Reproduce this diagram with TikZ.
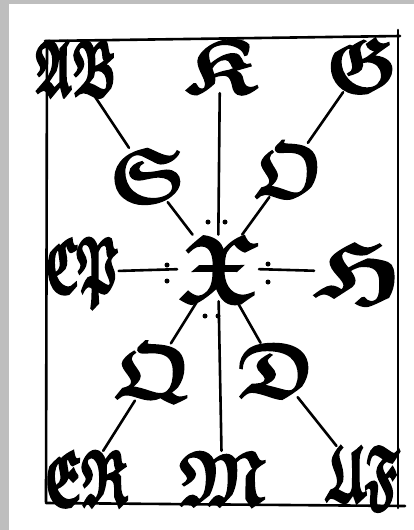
\documentclass[tikz,border=0pt]{standalone}
\usepackage{amssymb}
\usepackage{bm}
\definecolor{bggrey}{HTML}{BEBEBE}
\newcommand{\gth}[2][1]{\scalebox{#1}[1]{\special{pdf:literal direct 2 Tr 1.6 w}\ensuremath{\bm{\mathfrak{#2}}}\special{pdf:literal direct 0 Tr}}}
\newcommand{\gthpair}[2][1]{\scalebox{#1}[1]{\special{pdf:literal direct 2 Tr 3.2 w}\ensuremath{\bm{\mathfrak{#2}}}\special{pdf:literal direct 0 Tr}}}
\begin{document}
\begin{tikzpicture}[x=1pt,y=-1pt,
  glyph/.style={inner sep=0pt, font=\fontsize{78}{78}\selectfont},
  big/.style={font=\fontsize{96}{96}\selectfont},
  ink/.style={line width=2.6pt, line cap=round},
  dotmark/.style={circle, fill=black, inner sep=0pt, minimum size=5pt}]
\fill[bggrey] (0,0) rectangle (414,530);
\fill[white] (9,4) rectangle (414,530);
\useasboundingbox (0,0) rectangle (414,530);
% frame
\draw[ink] (45,41) -- (400,36);
\draw[ink] (47,41) -- (46,502);
\draw[ink] (398,30) -- (398,508);
\draw[ink] (46,503) -- (405,506);
% letters
\node[glyph] (ab) at (76,68) {\gthpair[0.55]{AB}};
\node[glyph] (k)  at (220,66) {\gth[1.15]{K}};
\node[glyph] (g)  at (362,65) {\gth{G}};
\node[glyph] (s)  at (147,175) {\gth{S}};
\node[glyph] (o)  at (289,170) {\gth[0.9]{O}};
\node[glyph,big] (x)  at (218,268) {\gth{X}};
\node[glyph] (cp) at (82,272) {\gthpair[0.55]{CP}};
\node[glyph] (h)  at (359,272) {\gth[1.35]{H}};
\node[glyph] (q)  at (153,372) {\gth{Q}};
\node[glyph] (d)  at (276,370) {\gth{D}};
\node[glyph] (er) at (86,478) {\gthpair[0.6]{ER}};
\node[glyph] (m)  at (222,478) {\gth[0.9]{M}};
\node[glyph] (uf) at (362,478) {\gthpair[0.6]{UF}};
% connectors
\draw[ink] (k) -- (x);
\draw[ink] (x) -- (m);
\draw[ink] (cp) -- (x);
\draw[ink] (x) -- (h);
\draw[ink] (ab) -- (s);
\draw[ink] (s) -- (x);
\draw[ink] (g) -- (o);
\draw[ink] (o) -- (x);
\draw[ink] (x) -- (q);
\draw[ink] (q) -- (er);
\draw[ink] (x) -- (d);
\draw[ink] (d) -- (uf);
% dots
\node[dotmark] (d1) at (208,222) {};
\node[dotmark] (d2) at (225,222) {};
\node[dotmark] (d3) at (167,265) {};
\node[dotmark] (d4) at (167,281) {};
\node[dotmark] (d5) at (268,264) {};
\node[dotmark] (d6) at (268,282) {};
\node[dotmark] (d7) at (205,316) {};
\node[dotmark] (d8) at (218,316) {};
\end{tikzpicture}
\end{document}
